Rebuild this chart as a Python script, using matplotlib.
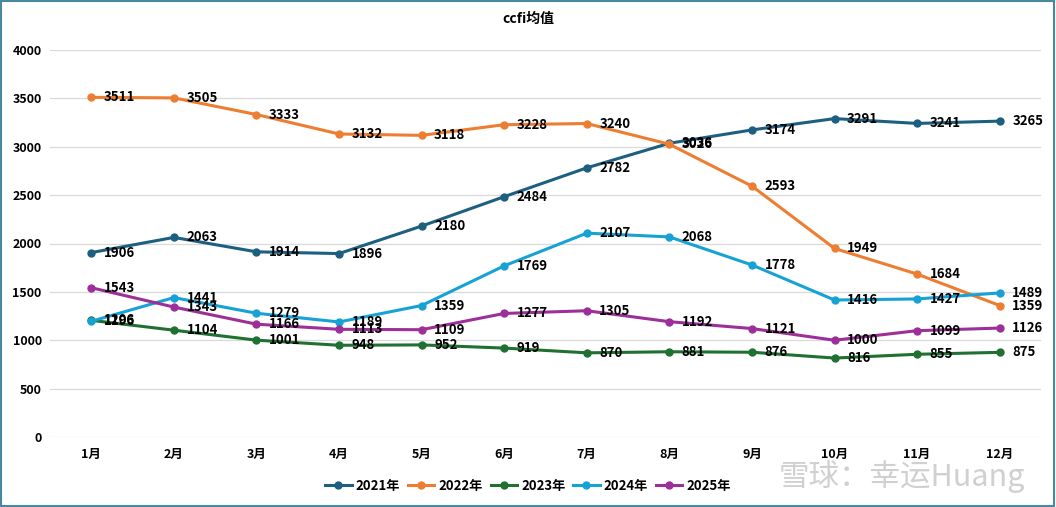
import matplotlib
matplotlib.use("Agg")
import matplotlib.pyplot as plt
from matplotlib.patches import Rectangle

plt.rcParams["font.family"] = ["Noto Sans CJK SC", "DejaVu Sans"]

months = ["1月", "2月", "3月", "4月", "5月", "6月", "7月", "8月", "9月", "10月", "11月", "12月"]
y2021 = [1906, 2063, 1914, 1896, 2180, 2484, 2782, 3036, 3174, 3291, 3241, 3265]
y2022 = [3511, 3505, 3333, 3132, 3118, 3228, 3240, 3026, 2593, 1949, 1684, 1359]
y2023 = [1206, 1104, 1001, 948, 952, 919, 870, 881, 876, 816, 855, 875]
y2024 = [1196, 1441, 1279, 1189, 1359, 1769, 2107, 2068, 1778, 1416, 1427, 1489]
y2025 = [1543, 1343, 1166, 1113, 1109, 1277, 1305, 1192, 1121, 1000, 1099, 1126]

series = [
    ("2021年", y2021, "#1d5f80"),
    ("2022年", y2022, "#ed7d31"),
    ("2023年", y2023, "#1f7031"),
    ("2024年", y2024, "#17a2d6"),
    ("2025年", y2025, "#9c2f98"),
]

fig = plt.figure(figsize=(10.56, 5.07), dpi=100)
ax = fig.add_axes([50 / 1056, 1 - 437 / 507, 991 / 1056, 387 / 507])

x = list(range(len(months)))
for name, values, color in series:
    ax.plot(x, values, color=color, linewidth=2.2, marker="o", markersize=5, label=name, zorder=3)
    for xi, v in zip(x, values):
        # value labels sit just right of each point
        ax.annotate(str(v), (xi, v), xytext=(9, 0), textcoords="offset points",
                    ha="left", va="center", fontsize=9.5, fontweight="bold", color="black", zorder=4)

ax.set_xlim(-0.5, 11.5)
ax.set_ylim(0, 4000)
ax.set_yticks(range(0, 4001, 500))
ax.set_xticks(x)
ax.set_xticklabels(months)
ax.grid(axis="y", color="#d9d9d9", linewidth=0.9)
ax.set_axisbelow(True)
for s in ax.spines.values():
    s.set_visible(False)
ax.tick_params(length=0, labelsize=9)
ax.tick_params(axis="y", pad=6)
ax.tick_params(axis="x", pad=8)
for lab in ax.get_xticklabels() + ax.get_yticklabels():
    lab.set_fontweight("bold")

fig.text(0.5, 1 - 19 / 507, "ccfi均值", ha="center", va="center", fontsize=10, fontweight="bold")
fig.legend(loc="center", bbox_to_anchor=(0.5, 1 - 486 / 507), ncol=5, frameon=False,
           prop={"weight": "bold", "size": 9.5}, handlelength=2.0, columnspacing=0.6, handletextpad=0.3)

fig.text(1025 / 1056, 1 - 476 / 507, "雪球：幸运Huang", ha="right", va="center", fontsize=22,
         color="#c8c8c8", alpha=0.85)

fig.patches.append(Rectangle((0.001, 0.002), 0.997, 0.996, transform=fig.transFigure,
                             fill=False, edgecolor="#4a87a0", linewidth=1.5))

fig.savefig("out.png", dpi=100)
